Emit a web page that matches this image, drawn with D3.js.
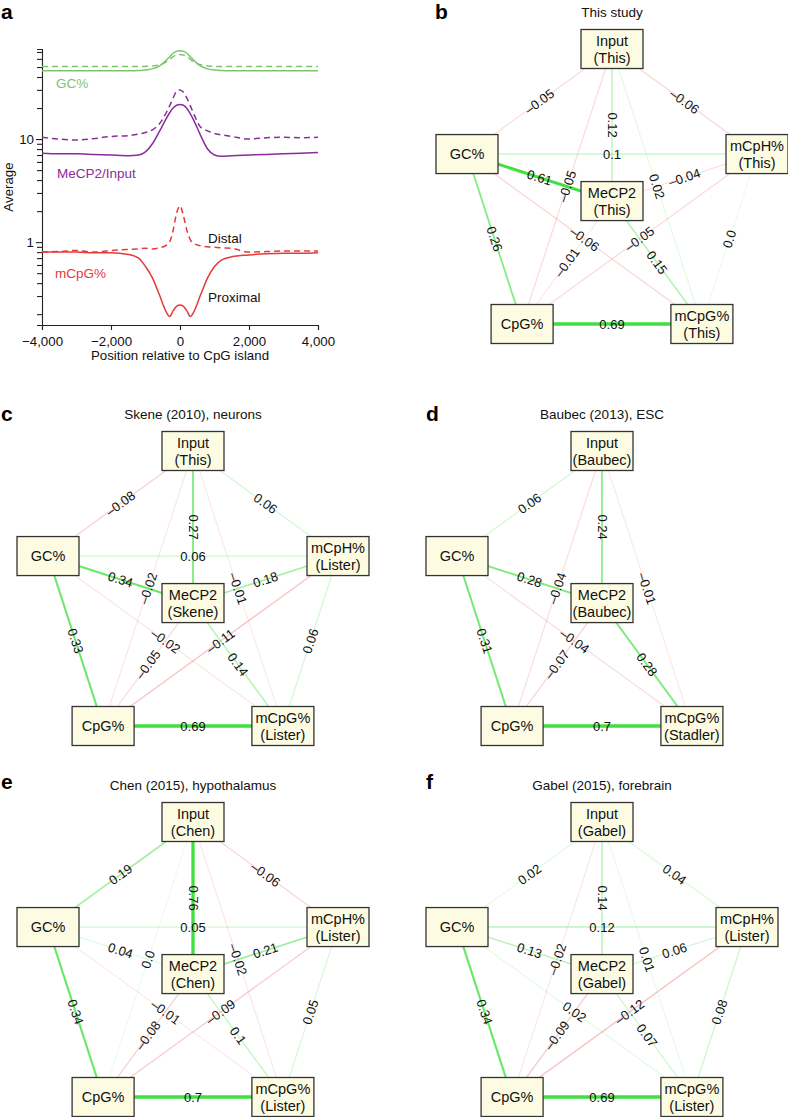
<!DOCTYPE html>
<html><head><meta charset="utf-8">
<script src="https://cdn.jsdelivr.net/npm/d3@7"></script>
<style>
body{margin:0;background:#fff;}
text{font-family:"Liberation Sans",Arial,Helvetica,sans-serif;}
</style>
</head><body>
<svg id="fig" width="788" height="1117"></svg>
<script>
// ---------------- DATA: panel a ----------------
const positions = [-4000,-3500,-3000,-2500,-2000,-1500,-1200,-1000,-800,-600,-400,-300,-200,-100,0,100,200,300,400,600,800,1000,1200,1500,2000,2500,3000,3500,4000];
const gcProximal   = [46,46,46,46,46,46,46.3,46.8,48,51,58,63,68,71,72,71,68,63,58,51,48,46.8,46.3,46,46,46,46,46,46];
const gcDistal     = [50.5,50.5,50.5,50.5,50.5,50.5,50.5,50.7,51.2,52.5,56,59.5,63,65.5,66,65.5,63,59.5,56,52.5,51.2,50.7,50.5,50.5,50.5,50.5,50.5,50.5,50.5];
const mecpProximal = [7.3,7.2,7.2,7.1,7.0,6.9,7.0,7.5,9.0,11.8,15.8,18.0,20.0,21.3,21.7,21.3,19.8,17.6,15.2,10.8,8.0,7.0,6.8,6.9,7.0,7.1,7.2,7.3,7.4];
const mecpDistal   = [10.4,10.0,9.8,10.1,10.6,10.8,11.2,11.6,12.3,14.0,18,21,25,29,30,28.5,25,21,17.5,13,12,11.3,11.0,10.6,10.0,10.3,10.4,10.3,10.4];
const mcpgProximal = [0.80,0.80,0.80,0.79,0.79,0.76,0.70,0.58,0.45,0.31,0.21,0.19,0.215,0.238,0.245,0.238,0.215,0.19,0.21,0.31,0.45,0.58,0.67,0.72,0.75,0.77,0.78,0.78,0.79];
const mcpgDistal   = [0.80,0.81,0.83,0.80,0.83,0.85,0.86,0.87,0.86,0.88,0.93,1.0,1.3,1.9,2.25,1.8,1.3,1.05,0.97,0.92,0.90,0.89,0.88,0.87,0.80,0.81,0.82,0.82,0.82];
const xTicks = [-4000,-2000,0,2000,4000];
const yLabelTicks = [1,10];

// ---------------- DATA: networks ----------------
const nodeKeys = ["Input","GC","mCpH","MeCP2","CpG","mCpG"];
const edgePairs = [["Input","GC"],["Input","mCpH"],["Input","MeCP2"],["Input","CpG"],["Input","mCpG"],
  ["GC","mCpH"],["GC","MeCP2"],["GC","CpG"],["GC","mCpG"],["mCpH","MeCP2"],["mCpH","CpG"],["mCpH","mCpG"],
  ["MeCP2","CpG"],["MeCP2","mCpG"],["CpG","mCpG"]];

const titleB = "This study";
const nodeLabelsB = ["Input\n(This)","GC%","mCpH%\n(This)","MeCP2\n(This)","CpG%","mCpG%\n(This)"];
const corrB = [-0.05,-0.06,0.12,-0.05,0.02,0.1,0.61,0.26,-0.06,-0.04,-0.05,0.0,-0.01,0.15,0.69];

const titleC = "Skene (2010), neurons";
const nodeLabelsC = ["Input\n(This)","GC%","mCpH%\n(Lister)","MeCP2\n(Skene)","CpG%","mCpG%\n(Lister)"];
const corrC = [-0.08,0.06,0.27,-0.02,-0.01,0.06,0.34,0.33,-0.02,0.18,-0.11,0.06,-0.05,0.14,0.69];

const titleD = "Baubec (2013), ESC";
const nodeLabelsD = ["Input\n(Baubec)","GC%",null,"MeCP2\n(Baubec)","CpG%","mCpG%\n(Stadler)"];
const corrD = [0.06,null,0.24,-0.04,-0.01,null,0.28,0.31,-0.04,null,null,null,-0.07,0.28,0.7];

const titleE = "Chen (2015), hypothalamus";
const nodeLabelsE = ["Input\n(Chen)","GC%","mCpH%\n(Lister)","MeCP2\n(Chen)","CpG%","mCpG%\n(Lister)"];
const corrE = [0.19,-0.06,0.76,0.0,-0.02,0.05,0.04,0.34,-0.01,0.21,-0.09,0.05,-0.08,0.1,0.7];

const titleF = "Gabel (2015), forebrain";
const nodeLabelsF = ["Input\n(Gabel)","GC%","mCpH%\n(Lister)","MeCP2\n(Gabel)","CpG%","mCpG%\n(Lister)"];
const corrF = [0.02,0.04,0.14,-0.02,0.01,0.12,0.13,0.34,0.02,0.06,-0.12,0.08,-0.09,0.07,0.69];

// ---------------- LAYOUT ----------------
const svg = d3.select("#fig");
const layoutX = {Input:0, GC:-1, mCpH:1, MeCP2:0, CpG:-0.62, mCpG:0.62};
const layoutY = {Input:0, GC:0.382, mCpH:0.382, MeCP2:0.553, CpG:1, mCpG:1};

// ---------------- PANEL a ----------------
(function(){
  const g = svg.append("g");
  const x = d3.scaleLinear().domain([-4000,4000]).range([42,318]);
  const y = d3.scaleLog().domain([0.157,74.8]).range([325,49]);
  const minus = s => s.replace(/-/g,"\u2013");
  const xAxis = d3.axisBottom(x).tickValues(xTicks).tickSizeOuter(0).tickSize(5)
      .tickFormat(d => minus(d3.format(",")(d)));
  const ga = g.append("g").attr("transform","translate(0,325)").call(xAxis);
  const yAxis = d3.axisLeft(y).ticks(20).tickSizeOuter(0).tickSize(5)
      .tickFormat(d => yLabelTicks.includes(d) ? String(d) : "");
  const gy = g.append("g").attr("transform","translate(42,0)").call(yAxis);
  [ga,gy].forEach(a=>{
    a.selectAll("path,line").attr("stroke","#222").attr("stroke-width",1.1);
    a.selectAll("text").attr("font-size",13.3).attr("fill","#111")
      .style("font-family","'Liberation Sans',Arial,sans-serif");
  });
  ga.selectAll("text").attr("dy","1.0em");
  gy.selectAll("line").filter(d=>yLabelTicks.includes(d)).attr("x2",-6);

  const line = d3.line().x((d,i)=>x(positions[i])).y(d=>y(d)).curve(d3.curveMonotoneX);
  const series = [
    {v:gcDistal, c:"#7ec46e", dash:"6,4"},
    {v:gcProximal, c:"#7ec46e", dash:null},
    {v:mecpDistal, c:"#8a2c9b", dash:"6,4"},
    {v:mecpProximal, c:"#8a2c9b", dash:null},
    {v:mcpgDistal, c:"#e53a3a", dash:"6,4"},
    {v:mcpgProximal, c:"#e53a3a", dash:null}
  ];
  series.forEach(s=>{
    g.append("path").attr("d",line(s.v)).attr("fill","none").attr("stroke",s.c)
     .attr("stroke-width",1.5).attr("stroke-dasharray",s.dash);
  });
  const lab = (t,xx,yy,c,anchor)=>g.append("text").attr("x",xx).attr("y",yy).attr("fill",c)
     .attr("font-size",13.5).attr("text-anchor",anchor||"start").text(t);
  lab("GC%",56,88,"#7ec46e");
  lab("MeCP2/Input",57,178,"#8a2c9b");
  lab("mCpG%",55,278,"#e53a3a");
  lab("Distal",208,243,"#111");
  lab("Proximal",208,302,"#111");
  lab("Position relative to CpG island",180,360,"#111","middle").attr("font-size",13.3);
  g.append("text").attr("transform","translate(13,187) rotate(-90)").attr("text-anchor","middle")
   .attr("font-size",13.3).attr("fill","#111").text("Average");
  g.append("text").attr("x",1).attr("y",19).attr("font-size",21).attr("font-weight","bold").text("a");
})();

// ---------------- NETWORKS ----------------
const fmt = v => v === 0 ? "0.0" : String(v).replace("-","\u2013");
const opacity = d3.scaleLinear().domain([0,0.45]).range([0.12,1]).clamp(true);
const width = d3.scaleLinear().domain([0,0.7]).range([1,3.3]).clamp(true);

function network(letter, lx, ly, cx, top, title, nodeLabels, corr){
  const g = svg.append("g");
  const xs = d3.scaleLinear().domain([-1,1]).range([cx-145,cx+145]);
  const ys = d3.scaleLinear().domain([0,1]).range([top,top+275]);
  const nodes = nodeKeys.map((k,i)=>({k, label:nodeLabels[i], x:xs(layoutX[k]), y:ys(layoutY[k])}))
      .filter(n=>n.label);
  const byKey = Object.fromEntries(nodes.map(n=>[n.k,n]));
  const edges = edgePairs.map((p,i)=>({a:byKey[p[0]], b:byKey[p[1]], r:corr[i]}))
      .filter(e=>e.r!==null && e.a && e.b)
      .sort((p,q)=>Math.abs(p.r)-Math.abs(q.r));
  g.selectAll("line.edge").data(edges).join("line")
    .attr("x1",e=>e.a.x).attr("y1",e=>e.a.y).attr("x2",e=>e.b.x).attr("y2",e=>e.b.y)
    .attr("stroke",e=>e.r>=0 ? "#3fe03f" : "#e85050")
    .attr("stroke-opacity",e=>opacity(Math.abs(e.r)))
    .attr("stroke-width",e=>width(Math.abs(e.r)));
  g.selectAll("text.el").data(edges).join("text")
    .attr("font-size",13).attr("fill","#111").attr("text-anchor","middle")
    .attr("dominant-baseline","central")
    .attr("transform",e=>{
      const mx=(e.a.x+e.b.x)/2, my=(e.a.y+e.b.y)/2;
      let ang=Math.atan2(e.b.y-e.a.y,e.b.x-e.a.x)*180/Math.PI;
      if(ang>90) ang-=180; if(ang<=-90) ang+=180;
      return `translate(${mx},${my}) rotate(${ang})`;
    })
    .text(e=>fmt(e.r));
  const bw=62, bh=39;
  const ng = g.selectAll("g.node").data(nodes).join("g").attr("transform",n=>`translate(${n.x},${n.y})`);
  ng.append("rect").attr("x",-bw/2).attr("y",-bh/2).attr("width",bw).attr("height",bh)
    .attr("fill","#fdfce3").attr("stroke","#333").attr("stroke-width",1.3);
  ng.each(function(n){
    const lines = n.label.split("\n");
    const t = d3.select(this).append("text").attr("text-anchor","middle").attr("font-size",14.5).attr("fill","#111");
    lines.forEach((l,i)=>{
      t.append("tspan").attr("x",0).attr("y", lines.length===1 ? 5 : (i===0 ? -3 : 14)).text(l);
    });
  });
  g.append("text").attr("x",cx).attr("y",top-32).attr("text-anchor","middle").attr("font-size",13.5)
    .attr("fill","#111").text(title);
  g.append("text").attr("x",lx).attr("y",ly).attr("font-size",21).attr("font-weight","bold").text(letter);
}

network("b",435,19,612,49,titleB,nodeLabelsB,corrB);
network("c",1,421,193,451,titleC,nodeLabelsC,corrC);
network("d",426,421,602,451,titleD,nodeLabelsD,corrD);
network("e",1,789,193,822,titleE,nodeLabelsE,corrE);
network("f",426,789,602,822,titleF,nodeLabelsF,corrF);
</script>
</body></html>
